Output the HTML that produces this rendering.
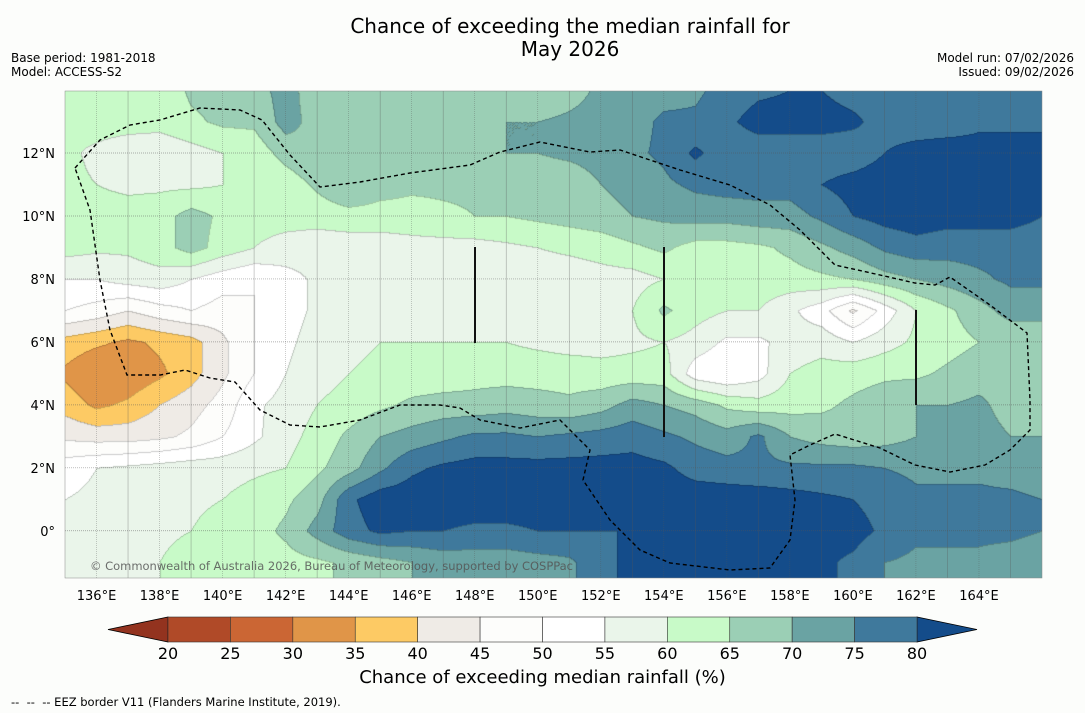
<!DOCTYPE html>
<html><head><meta charset="utf-8">
<style>
body{margin:0;background:#fcfdfb;font-family:"Liberation Sans","DejaVu Sans",sans-serif;}
#wrap{position:relative;width:1085px;height:713px;overflow:hidden;background:#fcfdfb;}
.t{position:absolute;white-space:nowrap;color:#000;}
</style></head><body>
<div id="wrap">
<div class="t" style="left:0;width:1140px;text-align:center;top:15px;font-size:20px;line-height:23px;font-family:'DejaVu Sans',sans-serif;">Chance of exceeding the median rainfall for<br>May 2026</div>
<div class="t" style="left:11px;top:51px;font-size:12px;line-height:14px;font-family:'DejaVu Sans',sans-serif;">Base period: 1981-2018<br>Model: ACCESS-S2</div>
<div class="t" style="right:11px;top:51px;font-size:12px;line-height:14px;text-align:right;font-family:'DejaVu Sans',sans-serif;">Model run: 07/02/2026<br>Issued: 09/02/2026</div>
<canvas id="map" width="977" height="487" style="position:absolute;left:65px;top:91px;"></canvas>
<svg id="ov" width="1085" height="713" style="position:absolute;left:0;top:0;"></svg>
<div class="t" style="left:0;width:1085px;text-align:center;top:667px;font-size:18px;font-family:'DejaVu Sans',sans-serif;">Chance of exceeding median rainfall (%)</div>
<div class="t" style="left:11px;top:695px;font-size:11.5px;font-family:'DejaVu Sans',sans-serif;">--&nbsp; --&nbsp; -- EEZ border V11 (Flanders Marine Institute, 2019).</div>
</div>
<script>
const lons=[135,136,137,138,139,140,141,142,143,144,145,146,147,148,149,150,151,152,153,154,155,156,157,158,159,160,161,162,163,164,165,166];
const lats=[14,13,12,11,10,9,8,7,6,5,4,3,2,1,0,-1,-2];
const grid=[
[61,61,61,61,66,67,68,72,67,67,67,67,67,68,68,66,68,71,72,73,74,77,79,80,80,78,76,76,77,78,76,76],
[61,62,62,62,64,66,66,72,68,66,66,67,67,68,70,70,71,72,73,76,76,79,82,82,82,81,78,77,77,79,79,79],
[61,59,57,56,58,60,62,67,70,67,66,66,66,68,70,70,71,72,74,76,81,77,77,77,77,77,80,82,83,82,82,82],
[61,60,59,59,59,60,60,62,66,70,67,66,66,66,67,67,67,70,72,74,76,77,77,77,80,82,83,83,83,83,83,83],
[61,62,62,63,67,64,62,62,62,63,63,63,64,65,65,66,67,68,70,71,72,72,73,73,76,80,82,83,82,82,82,80],
[62,61,61,63,67,63,60,58,57,57,57,58,58,58,59,60,61,62,64,66,63,63,64,66,69,72,76,78,77,77,77,77],
[55,55,57,58,55,52,50,53,56,56,55,55,56,57,57,57,57,58,58,60,61,62,63,63,64,65,68,70,72,74,76,76],
[50,48,45,48,50,48,50,53,56,57,57,57,58,58,58,57,57,58,60,66,62,60,60,56,52,44,52,60,64,68,72,72],
[38,36,34,36,38,44,50,54,57,59,60,60,60,60,60,59,58,58,59,60,58,54,54,57,58,55,58,61,63,65,66,66],
[34,30,31,34,38,44,50,55,58,60,61,62,62,63,63,63,63,62,62,62,52,50,53,60,62,63,64,64,66,68,67,66],
[38,34,36,40,43,47,54,57,60,62,64,66,67,67,68,67,66,68,72,70,68,64,62,63,64,66,68,70,70,71,68,68],
[44,43,43,44,46,50,54,58,62,66,70,72,74,76,76,75,76,77,78,76,74,72,76,70,68,67,68,70,72,72,70,70],
[53,55,56,57,58,58,59,60,64,68,74,79,81,82,82,82,82,82,82,81,78,77,76,76,76,76,75,74,74,74,73,72],
[55,56,57,58,59,60,62,64,68,79,83,83,83,83,83,83,83,83,83,83,83,83,83,82,81,80,78,76,76,76,76,75],
[56,57,58,59,60,62,63,66,72,78,81,80,80,79,79,80,80,80,80,82,83,83,83,83,82,82,79,76,76,76,76,75],
[57,58,58,60,62,62,63,63,64,66,68,70,72,72,72,73,74,79,81,82,83,83,83,82,81,79,75,74,74,74,73,72],
[57,58,58,60,62,62,63,63,64,66,68,70,72,72,72,73,74,79,81,82,83,83,83,82,81,79,75,74,74,74,73,72]];
const levels=[20,25,30,35,40,45,50,55,60,65,70,75,80];
const tickLabels=["20","25","30","35","40","45","50","55","60","65","70","75","80"];
const lonTicks=[136,138,140,142,144,146,148,150,152,154,156,158,160,162,164];
const latTicks=[12,10,8,6,4,2,0];
const colors=["#93331f","#b04a28","#cb6634","#e09548","#fdca64","#efebe6","#fdfdfb","#ffffff","#eaf5ea","#c8fac8","#9bcfb5","#6aa3a3","#3f799c","#144c8a"];
const X0=65,X1=1042,Y0=91,Y1=578,LON0=135,LON1=166,LAT0=13.97,LAT1=-1.5;
const xS=l=>X0+(l-LON0)/(LON1-LON0)*(X1-X0);
const yS=l=>Y0+(LAT0-l)/(LAT0-LAT1)*(Y1-Y0);
function binOf(v){let i=0;while(i<levels.length&&v>=levels[i])i++;return i;}
function valAt(lon,lat){
  let fx=lon-lons[0],fy=lats[0]-lat;
  fx=Math.max(0,Math.min(lons.length-1.001,fx));fy=Math.max(0,Math.min(lats.length-1.001,fy));
  const i=Math.floor(fx),j=Math.floor(fy),a=fx-i,b=fy-j;
  return grid[j][i]*(1-a)*(1-b)+grid[j][i+1]*a*(1-b)+grid[j+1][i]*(1-a)*b+grid[j+1][i+1]*a*b;
}
const cv=document.getElementById('map'),ctx=cv.getContext('2d');
const W=cv.width,H=cv.height,img=ctx.createImageData(W,H);
const rgb=colors.map(c=>[parseInt(c.substr(1,2),16),parseInt(c.substr(3,2),16),parseInt(c.substr(5,2),16)]);
const bins=new Uint8Array(W*H);
for(let y=0;y<H;y++)for(let x=0;x<W;x++){
  const lon=LON0+(x+0.5)/W*(LON1-LON0),lat=LAT0-(y+0.5)/H*(LAT0-LAT1);
  bins[y*W+x]=binOf(valAt(lon,lat));
}
for(let y=0;y<H;y++)for(let x=0;x<W;x++){
  const k=y*W+x,b=bins[k];let c=rgb[b];
  const edge=(x>0&&bins[k-1]!==b)||(y>0&&bins[k-W]!==b);
  const p=k*4;
  if(edge){img.data[p]=c[0]*0.8;img.data[p+1]=c[1]*0.8;img.data[p+2]=c[2]*0.8;}
  else{img.data[p]=c[0];img.data[p+1]=c[1];img.data[p+2]=c[2];}
  img.data[p+3]=255;
}
ctx.putImageData(img,0,0);
const NS='http://www.w3.org/2000/svg',ov=document.getElementById('ov');
function mk(tag,attrs,parent){const e=document.createElementNS(NS,tag);for(const k in attrs)e.setAttribute(k,attrs[k]);(parent||ov).appendChild(e);return e;}
for(let l=136;l<=165;l++){
  const g=mk('line',{x1:xS(l),x2:xS(l),y1:Y0,y2:Y1,stroke:'#555','stroke-width':0.6,'stroke-opacity':0.5,'stroke-dasharray':l%2===0?'1,1':'none'});
  
  
}
latTicks.forEach(l=>{
  const g=mk('line',{x1:X0,x2:X1,y1:yS(l),y2:yS(l),stroke:'#555','stroke-width':0.7,'stroke-opacity':0.6,'stroke-dasharray':'1,1'});
  
  
  const t=mk('text',{x:55,y:yS(l)+5,'text-anchor':'end','font-size':13,'font-family':'DejaVu Sans,sans-serif'});
  t.textContent=l===0?'0°':l+'°N';
  
  
});
lonTicks.forEach(l=>{
  const t=mk('text',{x:xS(l),y:600,'text-anchor':'middle','font-size':13,'font-family':'DejaVu Sans,sans-serif'});
  t.textContent=l+'°E';
  
  
});
const eez=[[75,168],[100,140],[130,125],[160,120],[200,108],[240,110],[262,120],[290,155],[320,187],[360,182],[410,173],[470,165],[500,152],[540,142],[590,152],[620,150],[680,170],[730,185],[770,205],[800,230],[835,265],[880,275],[915,283],[935,285],[950,277],[990,305],[1027,333],[1030,400],[1030,430],[1010,450],[985,465],[950,472],[915,465],[880,448],[835,434],[810,445],[790,455],[795,500],[790,540],[770,568],[730,570],[670,563],[640,550],[610,520],[583,480],[590,450],[560,420],[520,428],[480,420],[460,408],[440,405],[400,405],[360,420],[320,427],[290,425],[260,410],[235,382],[210,378],[185,370],[160,375],[127,375],[110,330],[100,280],[90,210],[75,168]];
const ez=mk('polyline',{points:eez.map(p=>p.join(',')).join(' '),fill:'none',stroke:'#000','stroke-width':1.4,'stroke-dasharray':'4,3'});


[[475,247,343],[664,247,437],[916,310,405]].forEach(v=>{
  const l=mk('line',{x1:v[0],x2:v[0],y1:v[1],y2:v[2],stroke:'#111','stroke-width':2});
  
  
});
const fr=mk('rect',{x:X0,y:Y0,width:X1-X0,height:Y1-Y0,fill:'none',stroke:'#888','stroke-width':0.5});


const cp=mk('text',{x:90,y:570,'font-size':11.5,fill:'#555','fill-opacity':0.85,'font-family':'DejaVu Sans,sans-serif',textLength:483});
cp.textContent='© Commonwealth of Australia 2026, Bureau of Meteorology, supported by COSPPac';


const CB0=168,CB1=917,CBY=617,CBH=25,bw=(CB1-CB0)/(levels.length-1);
const lt=mk('polygon',{points:`108,${CBY+CBH/2} ${CB0},${CBY} ${CB0},${CBY+CBH}`,fill:colors[0],stroke:'#000','stroke-width':0.8});


const rt=mk('polygon',{points:`977,${CBY+CBH/2} ${CB1},${CBY} ${CB1},${CBY+CBH}`,fill:colors[colors.length-1],stroke:'#000','stroke-width':0.8});


for(let i=0;i<levels.length-1;i++){
  const r=mk('rect',{x:CB0+i*bw,y:CBY,width:bw,height:CBH,fill:colors[i+1],stroke:'#333','stroke-width':0.6});
  
  
}
tickLabels.forEach((s,i)=>{
  const t=mk('text',{x:CB0+i*bw,y:659,'text-anchor':'middle','font-size':16,'font-family':'DejaVu Sans,sans-serif'});
  t.textContent=s;
  
  
});
</script>
</body></html>
